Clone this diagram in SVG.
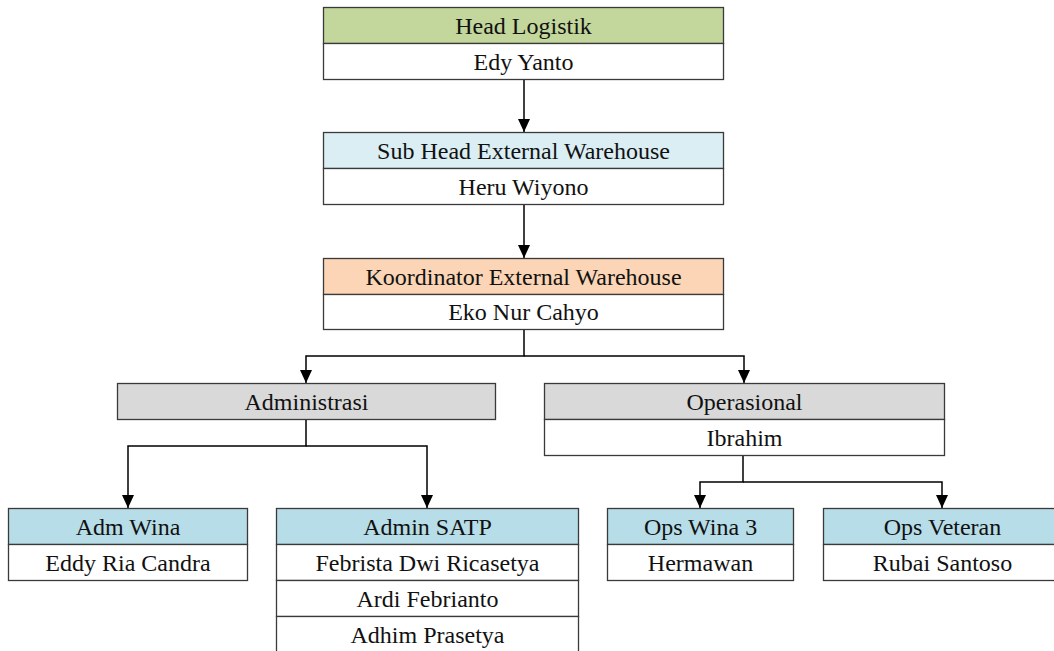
<svg xmlns="http://www.w3.org/2000/svg" width="1054" height="651" viewBox="0 0 1054 651">
  <style>
    .box { stroke: #3a3a3a; stroke-width: 1.3; }
    .row { fill: #ffffff; }
    .green { fill: #c3d69b; }
    .paleblue { fill: #daeef3; }
    .peach { fill: #fbd5b5; }
    .grey { fill: #d9d9d9; }
    .blue { fill: #b7dde8; }
    text { font-family: "Liberation Serif", "Times New Roman", serif; font-size: 24px; fill: #111; text-anchor: middle; }
    .link { fill: none; stroke: #000; stroke-width: 1.5; marker-end: url(#arrow); }
  </style>
  <defs>
    <!-- filled triangular arrowhead, tip at the end of the line -->
    <marker id="arrow" viewBox="0 0 13 12" refX="13" refY="6" markerWidth="13" markerHeight="12" markerUnits="userSpaceOnUse" orient="auto">
      <path d="M0,0 L13,6 L0,12 Z" fill="#000"/>
    </marker>
  </defs>

  <!-- connectors -->
  <g id="connectors">
    <path class="link" d="M524,79 V132"/>
    <path class="link" d="M524,204 V258"/>
    <path class="link" d="M524,329 V356 H306 V383"/>
    <path class="link" d="M524,356 H744 V383"/>
    <path class="link" d="M306,419 V446 H128 V508"/>
    <path class="link" d="M306,446 H427 V508"/>
    <path class="link" d="M743,455 V482 H700 V508"/>
    <path class="link" d="M743,482 H942 V508"/>
  </g>

  <g id="head-logistik">
    <rect class="box green" x="323.5" y="7.5" width="400" height="36"/>
    <rect class="box row" x="323.5" y="43.5" width="400" height="36"/>
    <text x="523.5" y="33.5">Head Logistik</text>
    <text x="523.5" y="69.5">Edy Yanto</text>
  </g>

  <g id="sub-head">
    <rect class="box paleblue" x="323.5" y="132.5" width="400" height="36"/>
    <rect class="box row" x="323.5" y="168.5" width="400" height="36"/>
    <text x="523.5" y="158.5">Sub Head External Warehouse</text>
    <text x="523.5" y="194.5">Heru Wiyono</text>
  </g>

  <g id="koordinator">
    <rect class="box peach" x="323.5" y="258.5" width="400" height="36"/>
    <rect class="box row" x="323.5" y="294.5" width="400" height="35"/>
    <text x="523.5" y="284.5">Koordinator External Warehouse</text>
    <text x="523.5" y="320">Eko Nur Cahyo</text>
  </g>

  <g id="administrasi">
    <rect class="box grey" x="117.5" y="383.5" width="378" height="36"/>
    <text x="306.5" y="409.5">Administrasi</text>
  </g>

  <g id="operasional">
    <rect class="box grey" x="544.5" y="383.5" width="400" height="36"/>
    <rect class="box row" x="544.5" y="419.5" width="400" height="36"/>
    <text x="744.5" y="409.5">Operasional</text>
    <text x="744.5" y="445.5">Ibrahim</text>
  </g>

  <g id="adm-wina">
    <rect class="box blue" x="8.5" y="508.5" width="239" height="36"/>
    <rect class="box row" x="8.5" y="544.5" width="239" height="36"/>
    <text x="128" y="534.5">Adm Wina</text>
    <text x="128" y="570.5">Eddy Ria Candra</text>
  </g>

  <g id="admin-satp">
    <rect class="box blue" x="276.5" y="508.5" width="302" height="36"/>
    <rect class="box row" x="276.5" y="544.5" width="302" height="36"/>
    <rect class="box row" x="276.5" y="580.5" width="302" height="36"/>
    <rect class="box row" x="276.5" y="616.5" width="302" height="36"/>
    <text x="427.5" y="570.5">Febrista Dwi Ricasetya</text>
    <text x="427.5" y="534.5">Admin SATP</text>
    <text x="427.5" y="606.5">Ardi Febrianto</text>
    <text x="427.5" y="642.5">Adhim Prasetya</text>
  </g>

  <g id="ops-wina-3">
    <rect class="box blue" x="607.5" y="508.5" width="186" height="36"/>
    <rect class="box row" x="607.5" y="544.5" width="186" height="36"/>
    <text x="700.5" y="534.5">Ops Wina 3</text>
    <text x="700.5" y="570.5">Hermawan</text>
  </g>

  <g id="ops-veteran">
    <rect class="box blue" x="823.5" y="508.5" width="238" height="36"/>
    <rect class="box row" x="823.5" y="544.5" width="238" height="36"/>
    <text x="942.5" y="534.5">Ops Veteran</text>
    <text x="942.5" y="570.5">Rubai Santoso</text>
  </g>
</svg>
